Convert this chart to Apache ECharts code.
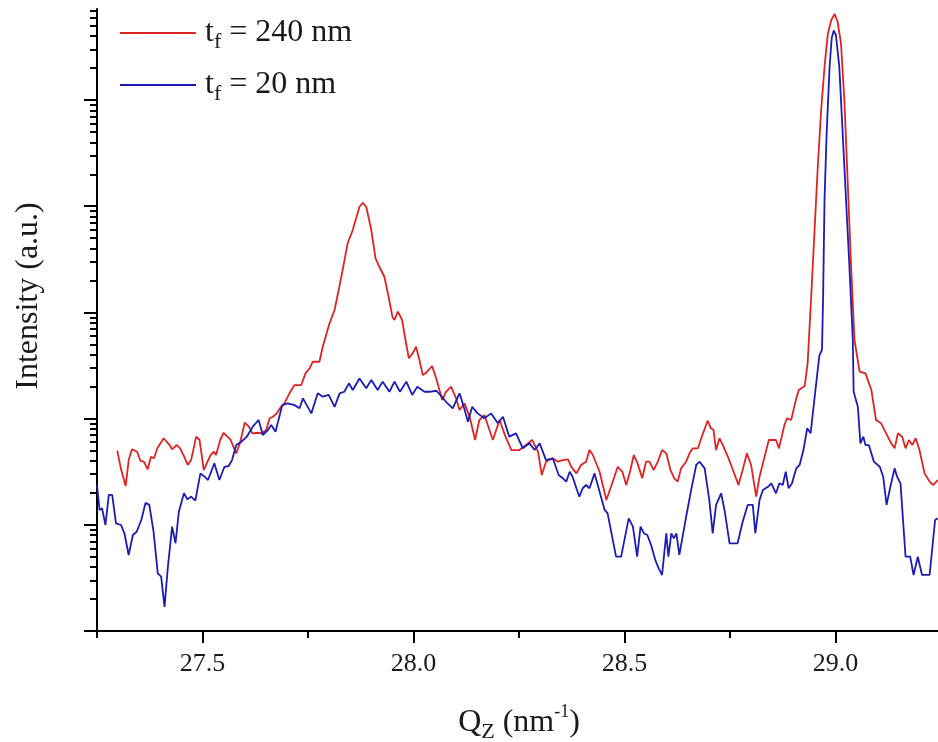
<!DOCTYPE html>
<html>
<head>
<meta charset="utf-8">
<script src="https://cdn.jsdelivr.net/npm/echarts@6/dist/echarts.min.js"></script>
<style>
  html, body { margin: 0; padding: 0; background: #ffffff; }
  #chart { width: 938px; height: 742px; }
</style>
</head>
<body>
<div id="chart"></div>
<script>
// Out-of-plane scan Qz (nm^-1) against intensity (log scale, arbitrary units)
const seriesNames = ['t_f = 240 nm', 't_f = 20 nm'];

// t_f = 240 nm
const qThick = [
  27.298, 27.307, 27.318, 27.325, 27.333, 27.345, 27.353, 27.361, 27.370, 27.378,
  27.385, 27.393, 27.396, 27.408, 27.415, 27.422, 27.428, 27.439, 27.447, 27.455,
  27.465, 27.473, 27.485, 27.493, 27.503, 27.510, 27.519, 27.527, 27.532, 27.542,
  27.550, 27.559, 27.566, 27.580, 27.589, 27.600, 27.610, 27.618, 27.631, 27.641,
  27.651, 27.659, 27.667, 27.676, 27.686, 27.694, 27.706, 27.718, 27.734, 27.744,
  27.754, 27.761, 27.777, 27.785, 27.801, 27.813, 27.829, 27.844, 27.856, 27.872,
  27.880, 27.888, 27.900, 27.910, 27.919, 27.931, 27.941, 27.950, 27.955, 27.963,
  27.973, 27.981, 27.989, 27.998, 28.006, 28.014, 28.022, 28.030, 28.044, 28.054,
  28.068, 28.077, 28.089, 28.101, 28.109, 28.121, 28.133, 28.146, 28.156, 28.168,
  28.188, 28.204, 28.218, 28.232, 28.251, 28.271, 28.281, 28.295, 28.304, 28.314,
  28.330, 28.342, 28.354, 28.366, 28.374, 28.386, 28.397, 28.409, 28.417, 28.425,
  28.441, 28.457, 28.468, 28.484, 28.495, 28.504, 28.513, 28.522, 28.531, 28.542,
  28.551, 28.559, 28.569, 28.579, 28.589, 28.599, 28.609, 28.618, 28.626, 28.634,
  28.646, 28.654, 28.662, 28.674, 28.686, 28.697, 28.705, 28.711, 28.717, 28.725,
  28.733, 28.745, 28.757, 28.770, 28.780, 28.790, 28.800, 28.812, 28.820, 28.828,
  28.842, 28.859, 28.866, 28.879, 28.885, 28.895, 28.907, 28.913, 28.927, 28.934,
  28.942, 28.950, 28.958, 28.966, 28.974, 28.982, 28.990, 28.998, 29.005, 29.013,
  29.021, 29.029, 29.037, 29.045, 29.057, 29.071, 29.085, 29.096, 29.108, 29.120,
  29.132, 29.140, 29.148, 29.158, 29.166, 29.174, 29.182, 29.190, 29.199, 29.211,
  29.223, 29.232, 29.242
];
const iThick = [
  50, 33.3, 23.2, 40.7, 51.4, 48.8, 39.9, 39.3, 33.3, 43.8,
  42.3, 52.5, 50.6, 65.3, 60.6, 56.4, 51.4, 56.4, 52.5, 45.4,
  36.6, 40.7, 67.6, 62.9, 32.8, 37.9, 45.4, 48.8, 45.4, 62.9,
  73.6, 67.6, 63.8, 47.1, 59.3, 91.5, 83.9, 72.7, 73.6, 72.7,
  78.1, 100.7, 104.2, 112.2, 129.4, 139.3, 173, 207, 207, 267,
  298, 343, 343, 475, 789, 1054, 2168, 4477, 5970, 9886,
  10790, 9886, 5970, 3229, 2692, 2168, 1406, 912, 848, 1016,
  848, 550, 370, 412, 475, 356, 257, 270, 313, 239,
  150, 179, 200, 155, 120.5, 139, 104, 62.9, 97, 108,
  62.9, 97, 67.6, 50.6, 50.6, 58.5, 62.9, 48.8, 29.4, 39.3,
  42.3, 39.3, 40.7, 41.4, 35.2, 30.5, 36.6, 39.3, 50.6, 45.4,
  31.6, 17.1, 22.8, 35.2, 31.6, 23.7, 31.6, 45.4, 37.9, 27.4,
  39.3, 39.3, 32.8, 39.3, 50.6, 47.1, 32.8, 27.4, 25.5, 34.0,
  39.3, 47.1, 52.5, 52.5, 72.7, 95.5, 81.1, 78.1, 50.6, 65.3,
  56.4, 43.8, 32.8, 23.7, 32.8, 47.1, 36.6, 18.4, 28.4, 37.9,
  62.9, 62.9, 52.5, 87.1, 100.7, 97, 155, 186, 203, 332,
  1309, 5559, 23550, 80540, 206000, 424600, 566600, 645600, 546000, 342000,
  100000, 16440, 2692, 550, 277, 267, 186, 97, 90.3, 72.7,
  58.5, 52.5, 72.7, 67.6, 52.5, 62.9, 56.4, 65.3, 50.6, 30.5,
  25.5, 23.7, 26.4
];

// t_f = 20 nm
const qThin = [
  27.250, 27.256, 27.262, 27.270, 27.278, 27.286, 27.295, 27.307, 27.315, 27.325,
  27.335, 27.344, 27.355, 27.365, 27.374, 27.384, 27.394, 27.402, 27.410, 27.418,
  27.428, 27.436, 27.444, 27.456, 27.464, 27.473, 27.483, 27.495, 27.505, 27.513,
  27.528, 27.540, 27.552, 27.562, 27.570, 27.580, 27.592, 27.605, 27.619, 27.633,
  27.643, 27.655, 27.663, 27.673, 27.689, 27.702, 27.718, 27.730, 27.738, 27.758,
  27.773, 27.785, 27.799, 27.813, 27.825, 27.836, 27.847, 27.856, 27.872, 27.888,
  27.900, 27.915, 27.927, 27.943, 27.955, 27.968, 27.983, 27.997, 28.009, 28.026,
  28.038, 28.054, 28.066, 28.077, 28.093, 28.109, 28.118, 28.129, 28.139, 28.152,
  28.168, 28.184, 28.200, 28.212, 28.227, 28.243, 28.259, 28.275, 28.287, 28.299,
  28.314, 28.330, 28.344, 28.354, 28.362, 28.370, 28.377, 28.386, 28.393, 28.401,
  28.409, 28.417, 28.429, 28.441, 28.453, 28.460, 28.480, 28.492, 28.510, 28.520,
  28.530, 28.538, 28.546, 28.554, 28.563, 28.573, 28.581, 28.589, 28.599, 28.604,
  28.611, 28.617, 28.623, 28.630, 28.646, 28.658, 28.670, 28.678, 28.690, 28.701,
  28.709, 28.717, 28.729, 28.737, 28.749, 28.768, 28.780, 28.792, 28.804, 28.810,
  28.820, 28.828, 28.840, 28.848, 28.859, 28.867, 28.875, 28.882, 28.889, 28.897,
  28.907, 28.915, 28.924, 28.933, 28.941, 28.948, 28.956, 28.962, 28.968, 28.9705,
  28.974, 28.979, 28.986, 28.991, 28.996, 29.001, 29.009, 29.017, 29.025, 29.033,
  29.041, 29.043, 29.053, 29.059, 29.066, 29.071, 29.079, 29.091, 29.105, 29.113,
  29.121, 29.130, 29.140, 29.146, 29.154, 29.166, 29.177, 29.185, 29.195, 29.205,
  29.223, 29.236, 29.242
];
const iThin = [
  23.7, 13.8, 14.3, 9.96, 19.1, 19.1, 10.3, 9.96, 8.32, 5.20,
  8.02, 8.61, 11.1, 16.1, 15.4, 8.61, 3.49, 3.25, 1.69, 4.03,
  9.6, 6.70, 13.3, 19.8, 17.4, 18.4, 16.9, 30.5, 28.4, 26.4,
  37.9, 26.4, 35.2, 35.8, 40.7, 56.4, 60.6, 67.6, 83.9, 97,
  70.1, 78.1, 87.1, 75.3, 134, 139, 134, 125, 155, 112,
  173, 161, 167, 129, 173, 179, 215, 186, 239, 193,
  231, 186, 223, 179, 223, 179, 223, 167, 200, 179,
  179, 183, 163, 144, 125, 173, 134, 93.5, 129, 112,
  100.7, 112, 90.3, 104, 67.6, 72.7, 52.5, 58.5, 50.6, 58.5,
  40.7, 42.3, 29.4, 27.4, 25.5, 31.6, 28.4, 22.1, 18.4, 22.1,
  23.7, 22.1, 30.5, 20.5, 13.8, 12.8, 5.01, 5.01, 11.5, 9.6,
  5.01, 9.6, 8.32, 8.02, 6.45, 4.66, 3.89, 3.37, 8.32, 5.01,
  8.32, 7.46, 8.32, 5.20, 11.9, 21.3, 36.6, 39.3, 34.0, 17.1,
  8.32, 15.4, 19.8, 13.8, 6.70, 6.70, 10.7, 15.4, 15.4, 8.32,
  17.1, 21.3, 22.8, 24.6, 19.8, 24.6, 23.7, 31.6, 22.1, 24.6,
  34.0, 36.6, 50.6, 81.1, 72.7, 129, 248, 397, 443, 1309,
  11430, 48530, 206000, 383700, 451000, 409300, 206000, 48530, 11430, 2692,
  550, 179, 129, 58.5, 67.6, 56.4, 56.4, 39.3, 35.2, 28.4,
  15.4, 22.8, 34.0, 28.4, 24.6, 5.01, 5.01, 3.37, 5.01, 3.37,
  3.37, 11.1, 11.5
];

// Axis ticks
const xMajorTicks = [27.5, 28.0, 28.5, 29.0];
const xMinorTicks = [27.25, 27.75, 28.25, 28.75, 29.25];
const yDecadeTicks = [1, 10, 100, 1000, 10000, 100000];
const yMinorSteps = [2, 3, 4, 5, 6, 7, 8, 9];

const X_MIN = 27.25, X_MAX = 29.25;
const Y_MIN = 1, Y_MAX = 720000;

const yMinorTicks = [];
yDecadeTicks.forEach(function (d) {
  yMinorSteps.forEach(function (m) {
    if (d * m <= Y_MAX) yMinorTicks.push(d * m);
  });
});

const serif = '"Liberation Serif", "Times New Roman", Times, serif';
const ink = '#1a1a1a';
const colors = ['#dd2424', '#1c1cb4'];

function pairs(xs, ys) {
  return xs.map(function (x, i) { return [x, ys[i]]; });
}

const legendRich = {
  a: { fontFamily: serif, fontSize: 32, lineHeight: 40, color: ink, padding: [0, 0, 0, 4] },
  m: { fontFamily: serif, fontSize: 32, lineHeight: 40, color: ink },
  s: { fontFamily: serif, fontSize: 22, lineHeight: 12, color: ink, verticalAlign: 'bottom' }
};

const chart = echarts.init(document.getElementById('chart'), null, { renderer: 'canvas' });

const axisLine = { show: true, lineStyle: { color: '#000', width: 2 } };

chart.setOption({
  animation: false,
  backgroundColor: '#ffffff',
  grid: {
    left: 97, top: 9, width: 844, height: 622,
    containLabel: false, outerBoundsMode: 'none'
  },
  legend: {
    orient: 'vertical',
    left: 120, top: 17,
    padding: 0,
    icon: 'rect',
    itemWidth: 76, itemHeight: 2, itemGap: 16,
    data: seriesNames,
    formatter: function (name) {
      const rest = name.slice(3);
      return '{a|t}{s|f}{m|' + rest + '}';
    },
    textStyle: { rich: legendRich }
  },
  xAxis: [
    {
      type: 'value', min: X_MIN, max: X_MAX, position: 'bottom',
      axisLine: axisLine,
      axisTick: { show: true, customValues: xMajorTicks, length: 12, lineStyle: { color: '#000', width: 2 } },
      axisLabel: {
        customValues: xMajorTicks,
        formatter: function (v) { return Number(v).toFixed(1); },
        fontFamily: serif, fontSize: 26, color: ink, margin: 20
      },
      splitLine: { show: false },
      name: '{q|Q}{z|Z}{q| (nm}{p|-1}{q|)}',
      nameLocation: 'middle', nameGap: 72,
      nameTextStyle: {
        rich: {
          q: { fontFamily: serif, fontSize: 32, lineHeight: 40, color: ink },
          z: { fontFamily: serif, fontSize: 22, lineHeight: 18, color: ink, verticalAlign: 'bottom' },
          p: { fontFamily: serif, fontSize: 18, lineHeight: 10, color: ink, verticalAlign: 'top' }
        }
      }
    },
    {
      type: 'value', min: X_MIN, max: X_MAX, position: 'bottom',
      axisLine: { show: false },
      axisTick: { show: true, customValues: xMinorTicks, length: 7, lineStyle: { color: '#000', width: 2 } },
      axisLabel: { show: false },
      splitLine: { show: false }
    }
  ],
  yAxis: [
    {
      type: 'log', logBase: 10, min: Y_MIN, max: Y_MAX, position: 'left',
      axisLine: axisLine,
      axisTick: { show: true, customValues: yDecadeTicks, length: 13, lineStyle: { color: '#000', width: 2 } },
      axisLabel: { show: false },
      splitLine: { show: false },
      name: 'Intensity (a.u.)',
      nameLocation: 'middle', nameGap: 52,
      nameTextStyle: { fontFamily: serif, fontSize: 32, color: ink, padding: [0, 0, 0, 48] }
    },
    {
      type: 'log', logBase: 10, min: Y_MIN, max: Y_MAX, position: 'left',
      axisLine: { show: false },
      axisTick: { show: true, customValues: yMinorTicks, length: 7, lineStyle: { color: '#000', width: 2 } },
      axisLabel: { show: false },
      splitLine: { show: false }
    }
  ],
  series: [
    {
      name: seriesNames[0], type: 'line', xAxisIndex: 0, yAxisIndex: 0,
      symbol: 'none', showSymbol: false, smooth: false,
      lineStyle: { color: colors[0], width: 1.8 }, itemStyle: { color: colors[0] },
      data: pairs(qThick, iThick)
    },
    {
      name: seriesNames[1], type: 'line', xAxisIndex: 0, yAxisIndex: 0,
      symbol: 'none', showSymbol: false, smooth: false,
      lineStyle: { color: colors[1], width: 1.8 }, itemStyle: { color: colors[1] },
      data: pairs(qThin, iThin)
    }
  ]
});
</script>
</body>
</html>
